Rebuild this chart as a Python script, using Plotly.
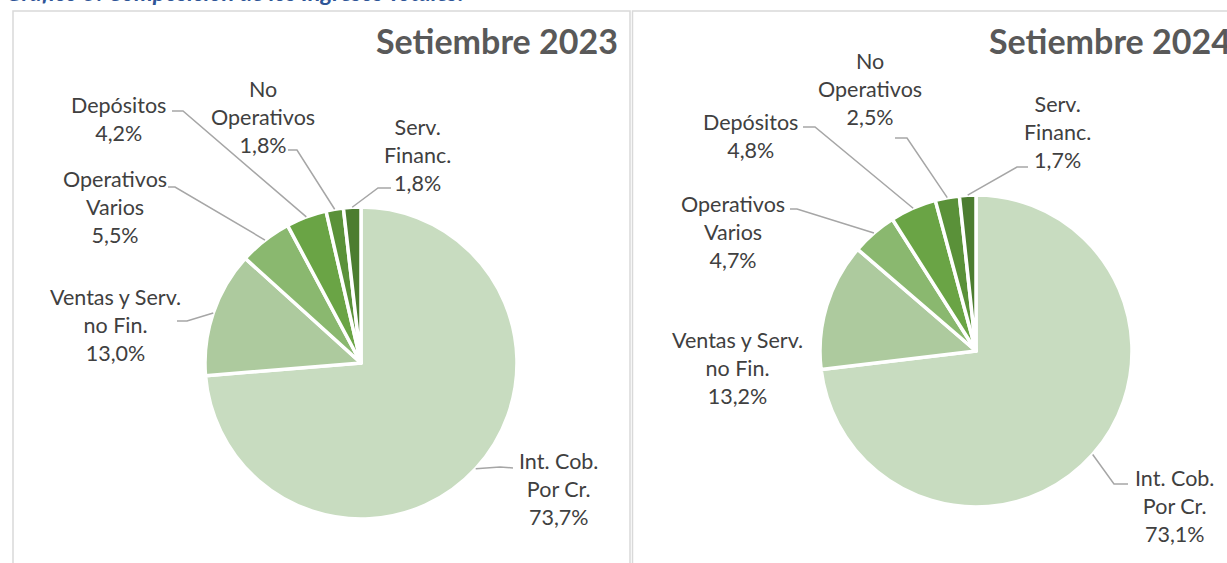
import math
import plotly.graph_objects as go

# ---------------- data ----------------
categories = ["Int. Cob.<br>Por Cr.", "Ventas y Serv.<br>no Fin.", "Operativos<br>Varios",
              "Depósitos", "No<br>Operativos", "Serv.<br>Financ."]
values_2023 = [73.7, 13.0, 5.5, 4.2, 1.8, 1.8]
values_2024 = [73.1, 13.2, 4.7, 4.8, 2.5, 1.7]
panel_titles = ["Setiembre 2023", "Setiembre 2024"]
chart_title = "Gráfico 5: Composición de los Ingresos Totales:"

# ---------------- styles / layout ----------------
W, H = 1227, 563
colors = ["#C8DCC0", "#ADCA9E", "#8AB86F", "#6AA445", "#5A9139", "#4C7D30"]
FONT = "Lato"
LABEL_COLOR = "#404040"
LINE_COLOR = "#A6A6A6"

pies = [
    dict(cx=361, cy=363, r=156, values=values_2023,
         labels_pos=[(558, 489), (115, 325), (115, 207), (118, 119), (263, 117), (417, 155)],
         leaders=[((513, 468), (500, 467)), ((177, 321), (187, 321)), ((168, 187), (175, 187)),
                  ((172, 111), (183, 111)), ((288, 150), (297, 150)), ((391, 188), (378, 188))],
         title_pos=(620, 41)),
    dict(cx=976, cy=351, r=156, values=values_2024,
         labels_pos=[(1174, 506), (737, 368), (733, 232), (750, 136), (870, 89), (1057, 132)],
         leaders=[((1128, 484), (1114, 484)), None, ((790, 209), (797, 209)),
                  ((803, 127), (815, 127)), ((895, 138), (907, 138)), ((1028, 167), (1017, 167))],
         title_pos=(987, 41)),
]


def px(x):
    return x / W


def py(y):
    return 1 - y / H


def fmt(v):
    return f"{v:.1f}".replace(".", ",") + "%"


fig = go.Figure()
shapes = []
annotations = []

for p in pies:
    cx, cy, r = p["cx"], p["cy"], p["r"]
    fig.add_trace(go.Pie(
        values=p["values"], labels=[c.replace("<br>", " ") for c in categories],
        sort=False, direction="clockwise", rotation=0,
        marker=dict(colors=colors, line=dict(color="white", width=3.5)),
        textinfo="none", hoverinfo="label+percent", showlegend=False,
        domain=dict(x=[px(cx - r), px(cx + r)], y=[py(cy + r), py(cy - r)]),
    ))
    total = sum(p["values"])
    cum = 0.0
    for i, v in enumerate(p["values"]):
        mid = (cum + v / 2) / total * 2 * math.pi
        cum += v
        tx = cx + r * math.sin(mid)
        ty = cy - r * math.cos(mid)
        lx, ly = p["labels_pos"][i]
        annotations.append(dict(
            x=px(lx), y=py(ly), xref="paper", yref="paper", showarrow=False,
            xanchor="center", yanchor="middle", align="center",
            text=f"{categories[i]}<br>{fmt(v)}",
            font=dict(family=FONT, size=21.5, color=LABEL_COLOR)))
        ld = p["leaders"][i]
        if ld is not None:
            (sx, sy), (ex, ey) = ld
            path = f"M {px(sx)} {py(sy)} L {px(ex)} {py(ey)} L {px(tx)} {py(ty)}"
            shapes.append(dict(type="path", xref="paper", yref="paper", path=path,
                               line=dict(color=LINE_COLOR, width=1.5)))

# panel titles
annotations.append(dict(x=px(pies[0]["title_pos"][0]), y=py(pies[0]["title_pos"][1]),
                        xref="paper", yref="paper", showarrow=False, xanchor="right",
                        yanchor="middle", text=f"<b>{panel_titles[0]}</b>",
                        font=dict(family=FONT, size=34, color="#595959")))
annotations.append(dict(x=px(pies[1]["title_pos"][0]), y=py(pies[1]["title_pos"][1]),
                        xref="paper", yref="paper", showarrow=False, xanchor="left",
                        yanchor="middle", text=f"<b>{panel_titles[1]}</b>",
                        font=dict(family=FONT, size=34, color="#595959")))

# clipped top caption
annotations.append(dict(x=px(4), y=py(8), xref="paper", yref="paper", showarrow=False,
                        xanchor="left", yanchor="bottom",
                        text=f"<b><i>{chart_title}</i></b>",
                        font=dict(family=FONT, size=23.5, color="#2E5597")))

# panel borders
shapes.append(dict(type="rect", xref="paper", yref="paper",
                   x0=px(13), x1=px(630), y0=py(600), y1=py(11),
                   line=dict(color="#D9D9D9", width=1.5), layer="below"))
shapes.append(dict(type="rect", xref="paper", yref="paper",
                   x0=px(632.5), x1=px(1260), y0=py(600), y1=py(11),
                   line=dict(color="#D9D9D9", width=1.5), layer="below"))

fig.update_layout(
    width=W, height=H,
    margin=dict(l=0, r=0, t=0, b=0),
    paper_bgcolor="white", plot_bgcolor="white",
    shapes=shapes, annotations=annotations,
    font=dict(family=FONT),
)

fig.write_html("out.html", config={"displayModeBar": False},
               post_script="document.body.style.margin='0';")
